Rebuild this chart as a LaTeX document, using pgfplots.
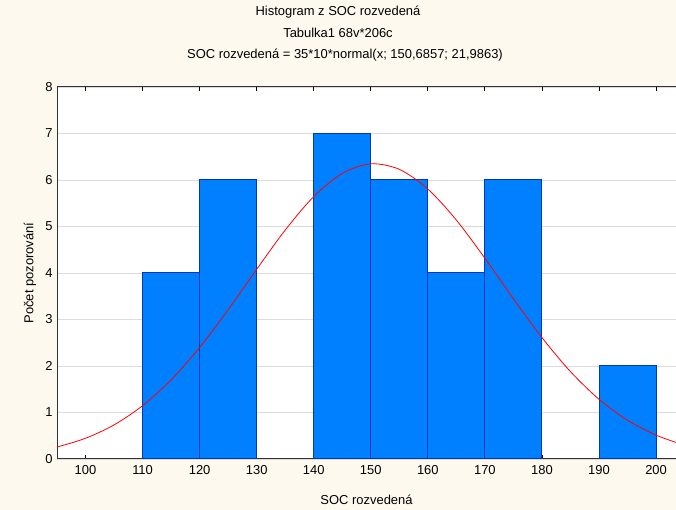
\documentclass[border=0pt]{standalone}
\usepackage{pgfplots}
\pgfplotsset{compat=1.18}
\usepackage{fontspec}
\setmainfont{Liberation Sans}
\definecolor{bgcream}{HTML}{FDF9EE}
\definecolor{barfill}{HTML}{0080FF}
\definecolor{baredge}{HTML}{0038B8}
\definecolor{gridgray}{HTML}{DCDCDC}
\begin{document}
\fontsize{13}{15}\selectfont
\begin{tikzpicture}[x=1bp,y=1bp]
\fill[bgcream] (0,0) rectangle (676,510);
\node[anchor=center] at (338,498) {Histogram z SOC rozvedená};
\node[anchor=center] at (338,477) {Tabulka1 68v*206c};
\node[anchor=center] at (345,455) {SOC rozvedená = 35*10*normal(x; 150,6857; 21,9863)};
\node[rotate=90, anchor=center] at (30,237) {Počet pozorování};
\begin{axis}[
    at={(57bp,51bp)}, anchor=south west,
    scale only axis,
    width=623bp, height=372bp,
    xmin=95, xmax=204.2,
    ymin=0, ymax=8,
    xtick={100,110,...,200},
    ytick={0,1,...,8},
    ymajorgrids=true,
    grid style={gridgray, line width=0.8pt},
    axis background/.style={fill=white},
    axis line style={black!80, line width=1pt},
    major tick length=4bp,
    tick style={black, line width=0.8pt},
    ytick style={draw=none},
    /pgf/number format/assume math mode=true,
    tick label style={font=\fontsize{13}{15}\selectfont},
    xticklabel style={yshift=-2bp},
    xlabel={SOC rozvedená},
    xlabel style={at={(57bp+309.5bp,0)}, anchor=center, yshift=-41bp},
    xlabel style={at={(rel axis cs:0.4968,0)}},
    clip=true,
]
\addplot[ybar interval, fill=barfill, draw=baredge, line width=1pt]
    coordinates {(110,4)(120,6)(130,6)};
\addplot[ybar interval, fill=barfill, draw=baredge, line width=1pt]
    coordinates {(140,7)(150,6)(160,4)(170,6)(180,6)};
\addplot[ybar interval, fill=barfill, draw=baredge, line width=1pt]
    coordinates {(190,2)(200,2)};
\addplot[red, line width=0.8pt, smooth]
    coordinates {(95,0.2568)(100,0.4455)(105,0.7333)(110,1.1464)(115,1.7014)
    (120,2.3979)(125,3.2094)(130,4.0790)(135,4.9233)(140,5.6428)(145,6.1418)
    (150,6.3479)(155,6.2299)(160,5.8059)(165,5.1382)(170,4.3180)(175,3.4458)
    (180,2.6112)(185,1.8790)(190,1.2839)(195,0.8331)(200,0.5134)(204.2,0.3290)};
\end{axis}
\pgfresetboundingbox
\useasboundingbox (0,0) rectangle (676,510);
\end{tikzpicture}
\end{document}
